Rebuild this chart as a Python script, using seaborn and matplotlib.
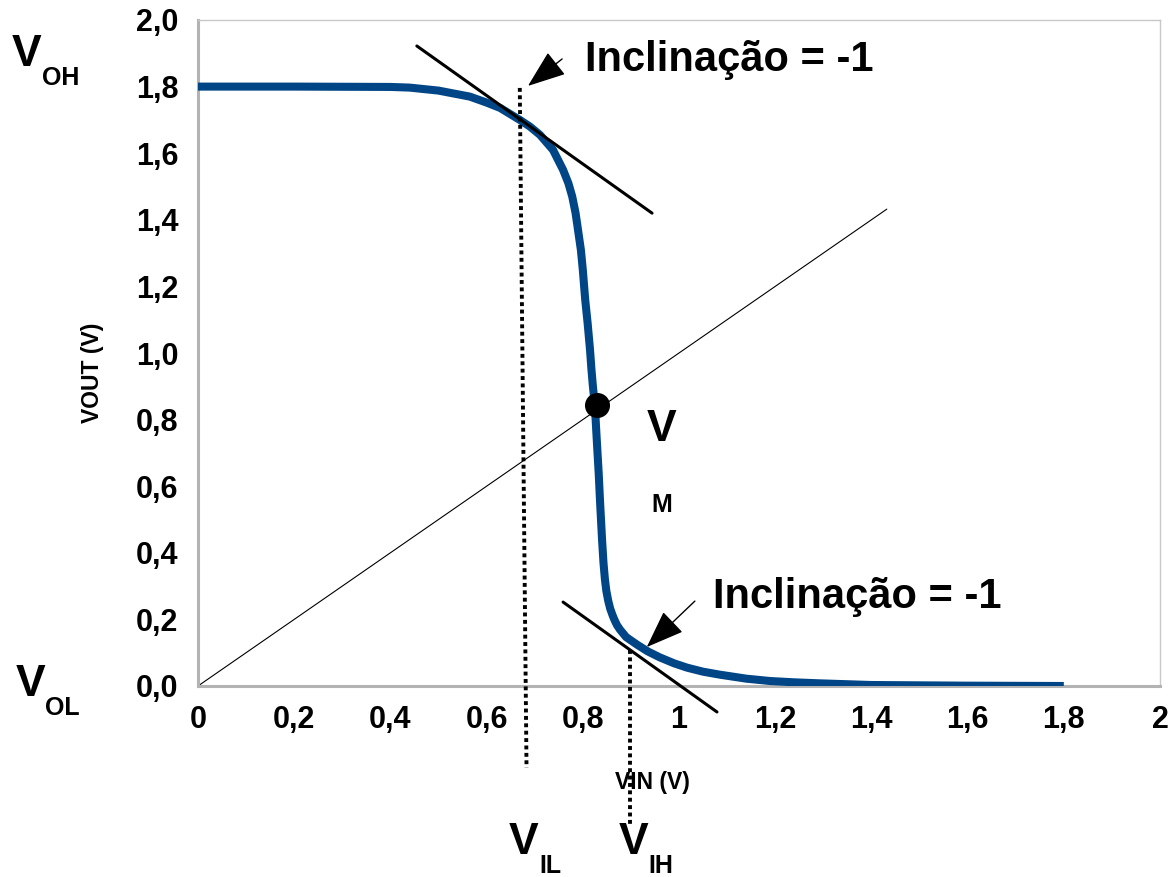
import matplotlib
matplotlib.use("Agg")
import matplotlib.pyplot as plt
import seaborn as sns
import pandas as pd

# curva de transferencia do inversor
vin = [0.0, 0.2, 0.4, 0.44, 0.5, 0.565, 0.6, 0.628, 0.669, 0.69, 0.711, 0.738,
       0.759, 0.770, 0.778, 0.785, 0.790, 0.796, 0.800, 0.805, 0.810, 0.815,
       0.818, 0.821, 0.825, 0.829, 0.833, 0.836, 0.840, 0.843, 0.846, 0.849,
       0.853, 0.857, 0.862, 0.866, 0.871, 0.877, 0.890, 0.913, 0.935, 0.960,
       0.990, 1.017, 1.050, 1.085, 1.140, 1.189, 1.240, 1.293, 1.4, 1.6, 1.8]
vout = [1.8, 1.8, 1.799, 1.797, 1.788, 1.77, 1.752, 1.736, 1.70, 1.68, 1.655, 1.61,
        1.55, 1.51, 1.47, 1.42, 1.37, 1.31, 1.25, 1.16, 1.09, 1.01,
        0.95, 0.90, 0.844, 0.74, 0.64, 0.55, 0.44, 0.37, 0.32, 0.285,
        0.255, 0.232, 0.212, 0.198, 0.183, 0.170, 0.147, 0.124, 0.104, 0.086,
        0.068, 0.055, 0.043, 0.034, 0.022, 0.015, 0.011, 0.008, 0.003, 0.001, 0.0]

# reta Vout = Vin
diag_x = [0.0, 1.432]
diag_y = [0.0, 1.432]

# retas tangentes (inclinacao = -1)
tan1_x = [0.455, 0.944]
tan1_y = [1.922, 1.420]
tan2_x = [0.759, 1.079]
tan2_y = [0.252, -0.078]

# linhas pontilhadas VIL / VIH
vil_x = [0.669, 0.683]
vil_y = [1.796, -0.246]
vih_x = [0.898, 0.898]
vih_y = [0.108, -0.417]

# ponto VM
vm_x = 0.83
vm_y = 0.844

xticks = [0, 0.2, 0.4, 0.6, 0.8, 1.0, 1.2, 1.4, 1.6, 1.8, 2.0]
xticklabels = ["0", "0,2", "0,4", "0,6", "0,8", "1", "1,2", "1,4", "1,6", "1,8", "2"]
yticks = [0, 0.2, 0.4, 0.6, 0.8, 1.0, 1.2, 1.4, 1.6, 1.8, 2.0]
yticklabels = ["0,0", "0,2", "0,4", "0,6", "0,8", "1,0", "1,2", "1,4", "1,6", "1,8", "2,0"]

sns.set_style("white")
plt.rcParams["font.family"] = ["Liberation Sans", "DejaVu Sans"]
plt.rcParams["font.weight"] = "bold"
plt.rcParams["text.color"] = "black"
plt.rcParams["xtick.labelcolor"] = "black"
plt.rcParams["ytick.labelcolor"] = "black"

W, H = 1168, 877
fig = plt.figure(figsize=(W / 100, H / 100), dpi=100)
ax = fig.add_axes([198 / W, 1 - 686 / H, 962 / W, 666 / H])


def px(x, y):
    return x / W, 1 - y / H


df = pd.DataFrame({"VIN": vin, "VOUT": vout})
sns.lineplot(data=df, x="VIN", y="VOUT", ax=ax, color="#004586", lw=5.8,
             sort=False, zorder=3, solid_joinstyle="round", solid_capstyle="butt")
sns.lineplot(x=diag_x, y=diag_y, ax=ax, color="black", lw=0.8, zorder=2)

ax.plot(tan1_x, tan1_y, color="black", lw=2.2, zorder=4)
ax.plot(tan2_x, tan2_y, color="black", lw=2.2, zorder=4, clip_on=False)
ax.plot(vil_x, vil_y, color="black", lw=2.8, ls=(0, (1, 0.9)), clip_on=False, zorder=4)
ax.plot(vih_x, vih_y, color="black", lw=2.8, ls=(0, (1, 0.9)), clip_on=False, zorder=4)
ax.plot([vm_x], [vm_y], marker="o", ms=17, color="black", zorder=5)

arrow = dict(arrowstyle="-|>,head_length=0.8,head_width=0.3", mutation_scale=30,
             color="black", lw=1, shrinkA=0, shrinkB=0)
ax.annotate("", xy=(0.686, 1.802), xytext=(0.757, 1.883), arrowprops=arrow)
ax.annotate("", xy=(0.933, 0.117), xytext=(1.033, 0.255), arrowprops=arrow)

ax.text(0.805, 1.88, "Inclinação = -1", fontsize=30, fontweight="bold", va="center")
ax.text(1.071, 0.267, "Inclinação = -1", fontsize=30, fontweight="bold", va="center")

ax.set_xlim(0, 2)
ax.set_ylim(0, 2)
ax.set_xticks(xticks)
ax.set_xticklabels(xticklabels)
ax.set_yticks(yticks)
ax.set_yticklabels(yticklabels)
ax.tick_params(axis="both", labelsize=22, color="#b3b3b3", width=2.2, length=7,
               pad=7, direction="out", labelcolor="black")
for lab in ax.get_xticklabels() + ax.get_yticklabels():
    lab.set_fontweight("bold")
ax.set_xlabel("")
ax.set_ylabel("")
for s in ["left", "bottom"]:
    ax.spines[s].set_color("#b3b3b3")
    ax.spines[s].set_linewidth(2.2)
for s in ["top", "right"]:
    ax.spines[s].set_color("#c8c8c8")
    ax.spines[s].set_linewidth(1.0)

# rotulos dos eixos
fig.text(*px(93, 373), "VOUT (V)", rotation=90, fontsize=16.5, fontweight="bold",
         ha="center", va="center")
fig.text(*px(652, 782), "VIN (V)", fontsize=16.5, fontweight="bold",
         ha="center", va="center")

# niveis de tensao
big, small = 32, 18
fig.text(*px(12, 54), "V", fontsize=big, fontweight="bold", va="center")
fig.text(*px(42, 78), "OH", fontsize=small, fontweight="bold", va="center")
fig.text(*px(16, 684), "V", fontsize=big, fontweight="bold", va="center")
fig.text(*px(45, 708), "OL", fontsize=small, fontweight="bold", va="center")
fig.text(*px(647, 430), "V", fontsize=big, fontweight="bold", va="center")
fig.text(*px(651, 505), "M", fontsize=small, fontweight="bold", va="center")
fig.text(*px(509, 842), "V", fontsize=big, fontweight="bold", va="center")
fig.text(*px(539, 866), "IL", fontsize=small, fontweight="bold", va="center")
fig.text(*px(619, 842), "V", fontsize=big, fontweight="bold", va="center")
fig.text(*px(648, 866), "IH", fontsize=small, fontweight="bold", va="center")

fig.savefig("out.png", dpi=100)
